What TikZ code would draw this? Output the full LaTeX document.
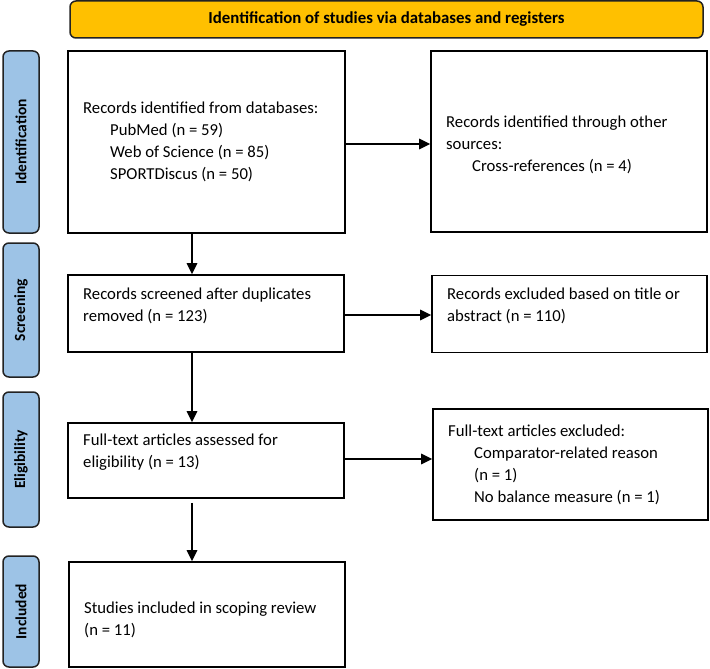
\documentclass[tikz,border=0pt]{standalone}
\usepackage{fontspec}
\setmainfont{Carlito}
\usetikzlibrary{arrows.meta,calc}
\definecolor{hdr}{HTML}{FFC000}
\definecolor{side}{HTML}{9DC3E6}
\definecolor{edge}{HTML}{222222}
\begin{document}
\begin{tikzpicture}[x=1pt,y=-1pt,
  box/.style={draw=black,line width=1.6pt,fill=white,inner sep=0pt},
  sidebox/.style={draw=edge,line width=1.5pt,fill=side,rounded corners=6pt,inner sep=0pt,minimum width=36pt},
  sidetxt/.style={rotate=90,font=\fontsize{15.5}{18}\selectfont\bfseries},
  txt/.style={anchor=north west,inner sep=0pt,align=left,font=\fontsize{16.7}{22}\selectfont},
  arr/.style={line width=1.6pt,-{Triangle[length=11pt,width=10.5pt]}}]
\useasboundingbox (0,0) rectangle (710,669);
% header
\node[draw=edge,line width=1.5pt,fill=hdr,rounded corners=6pt,minimum width=633pt,minimum height=37pt,
      font=\fontsize{16.8}{20}\selectfont\bfseries] (H) at (386.5,19.5) {Identification of studies via databases and registers};
% side labels
\node[sidebox,minimum height=182pt] (S1) at (21,142) {};
\node[sidetxt] (S1t) at (S1) {Identification};
\node[sidebox,minimum height=134pt] (S2) at (21,310) {};
\node[sidetxt] (S2t) at (S2) {Screening};
\node[sidebox,minimum height=135pt] (S3) at (21,459.5) {};
\node[sidetxt] (S3t) at (S3) {Eligibility};
\node[sidebox,minimum height=111pt] (S4) at (21,611.5) {};
\node[sidetxt] (S4t) at (S4) {Included};
% boxes
\node[box,minimum width=277pt,minimum height=182pt] (A) at (206.5,142) {};
\node[box,minimum width=276pt,minimum height=181pt] (B) at (569,141.5) {};
\node[box,minimum width=276pt,minimum height=77pt] (C) at (206,313.5) {};
\node[box,minimum width=275pt,minimum height=77pt] (D) at (569.5,314) {};
\node[box,minimum width=276pt,minimum height=75pt] (E) at (206,460.5) {};
\node[box,minimum width=275pt,minimum height=111pt] (F) at (570.5,464.5) {};
\node[box,minimum width=276pt,minimum height=105pt] (G) at (207,614.5) {};
% texts
\node[txt] (At) at (83,98) {\strut Records identified from databases:\\\hspace{27pt}PubMed (n = 59)\\\hspace{27pt}Web of Science (n = 85)\\\hspace{27pt}SPORTDiscus (n = 50)};
\node[txt] (Bt) at (446,111.5) {\strut Records identified through other\\sources:\\\hspace{26pt}Cross-references (n = 4)};
\node[txt] (Ct) at (83,283.5) {\strut Records screened after duplicates\\removed (n = 123)};
\node[txt] (Dt) at (447,283.5) {\strut Records excluded based on title or\\abstract (n = 110)};
\node[txt] (Et) at (83,429.5) {\strut Full-text articles assessed for\\eligibility (n = 13)};
\node[txt] (Ft) at (448,420.5) {\strut Full-text articles excluded:\\\hspace{26pt}Comparator-related reason\\\hspace{26pt}(n = 1)\\\hspace{26pt}No balance measure (n = 1)};
\node[txt] (Gt) at (84,597.5) {\strut Studies included in scoping review\\(n = 11)};
% connectors
\coordinate (vx) at (192,0);
\draw[arr] ([yshift=-2pt]A.east) -- ([yshift=-2pt]A.east -| B.west);
\draw[arr] ([yshift=-1.5pt]C.east) -- ([yshift=-1.5pt]C.east -| D.west);
\draw[arr] ([yshift=1.5pt]E.east) -- ([yshift=1.5pt]E.east -| F.west);
\draw[arr] (A.south -| vx) -- (C.north -| vx);
\draw[arr] (C.south -| vx) -- (E.north -| vx);
\draw[arr] ([yshift=-4pt]E.south -| vx) -- (G.north -| vx);
\end{tikzpicture}
\end{document}
